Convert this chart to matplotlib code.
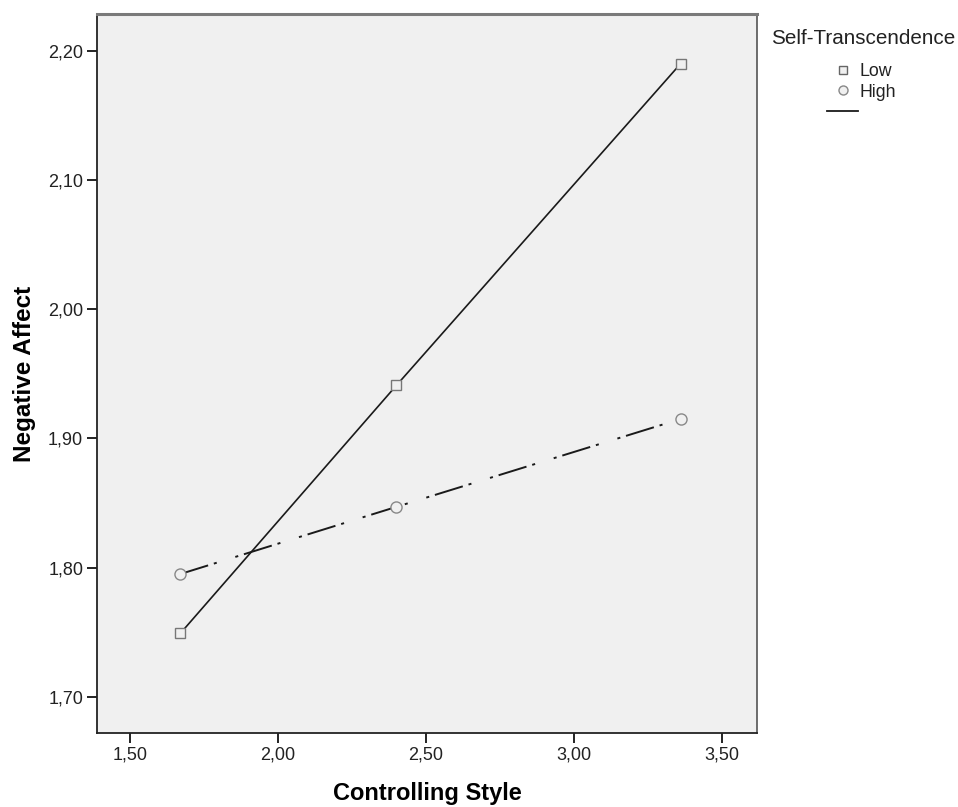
import matplotlib
matplotlib.use('Agg')

import matplotlib.pyplot as plt
from matplotlib.lines import Line2D
from matplotlib.ticker import FuncFormatter

# values
controlling_style = [1.67, 2.40, 3.36]
low_affect = [1.749, 1.941, 2.190]
high_affect = [1.795, 1.847, 1.915]
x_ticks = [1.5, 2.0, 2.5, 3.0, 3.5]
y_ticks = [1.7, 1.8, 1.9, 2.0, 2.1, 2.2]
legend_title = 'Self-Transcendence'
legend_labels = ['Low', 'High']


def comma(v, pos):
    return '{:.2f}'.format(v).replace('.', ',')


def main():
    plt.rcParams['font.family'] = ['Liberation Sans', 'DejaVu Sans']
    plt.rcParams['lines.scale_dashes'] = False

    fig = plt.figure(figsize=(9.58, 8.07), dpi=100)
    ax = fig.add_axes([0.1013, 0.0917, 0.689, 0.891])
    ax.set_facecolor('#f0f0f0')

    ax.plot(controlling_style, low_affect, color='#1a1a1a', linewidth=1.2,
            marker='s', markersize=6.5, markerfacecolor='#f0f0f0',
            markeredgecolor='#777777', markeredgewidth=1.0)
    ax.plot(controlling_style, high_affect, color='#1a1a1a', linewidth=1.4,
            dashes=[21, 4.3, 2.2, 14.0, 2.2, 4.3])
    ax.plot(controlling_style, high_affect, linestyle='none',
            marker='o', markersize=8, markerfacecolor='#f0f0f0',
            markeredgecolor='#888888', markeredgewidth=1.0)

    ax.set_xlim(1.389, 3.618)
    ax.set_ylim(1.672, 2.2284)
    ax.set_xticks(x_ticks)
    ax.set_yticks(y_ticks)
    ax.xaxis.set_major_formatter(FuncFormatter(comma))
    ax.yaxis.set_major_formatter(FuncFormatter(comma))
    ax.tick_params(direction='out', length=7.5, width=1.4, color='#222222',
                   labelsize=13, labelcolor='#222222', pad=2.5)

    for side in ['left', 'bottom']:
        ax.spines[side].set_color('#222222')
        ax.spines[side].set_linewidth(1.3)
    ax.spines['top'].set_color('#7a7a7a')
    ax.spines['top'].set_linewidth(2.2)
    ax.spines['right'].set_color('#555555')
    ax.spines['right'].set_linewidth(1.2)

    ax.set_xlabel('Controlling Style', fontsize=17, fontweight='bold',
                  labelpad=13)
    ax.set_ylabel('Negative Affect', fontsize=17.5, fontweight='bold',
                  labelpad=9)

    # legend: title as its own text, entries below it
    fig.text(0.8048, 0.9455, legend_title, fontsize=14.9, color='#222222',
             ha='left', va='baseline')
    handles = [
        Line2D([], [], linestyle='none', marker='s', markersize=5.8,
               markerfacecolor='#f0f0f0', markeredgecolor='#666666'),
        Line2D([], [], linestyle='none', marker='o', markersize=6.5,
               markerfacecolor='#f0f0f0', markeredgecolor='#888888'),
        Line2D([], [], color='#1a1a1a', linewidth=1.3),
    ]
    fig.legend(handles, legend_labels + [' '], loc='upper left',
               bbox_to_anchor=(0.8633, 0.9220), frameon=False,
               fontsize=12.8, handlelength=1.75, handletextpad=0.1,
               labelspacing=0.2, borderpad=0, borderaxespad=0,
               labelcolor='#222222')

    fig.savefig('out.png', dpi=100)


if __name__ == '__main__':
    main()
